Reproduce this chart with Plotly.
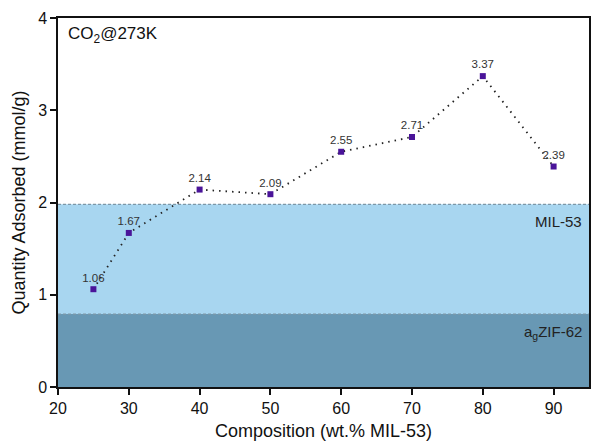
import plotly.graph_objects as go

composition = [25, 30, 40, 50, 60, 70, 80, 90]
uptake = [1.06, 1.67, 2.14, 2.09, 2.55, 2.71, 3.37, 2.39]
uptake_labels = ["1.06", "1.67", "2.14", "2.09", "2.55", "2.71", "3.37", "2.39"]
mil53_level = 1.98
zif62_level = 0.79
x_ticks = [20, 30, 40, 50, 60, 70, 80, 90]
y_ticks = [0, 1, 2, 3, 4]

FONT = "Liberation Sans, Arial, sans-serif"

fig = go.Figure()
fig.add_trace(go.Scatter(
    x=composition, y=uptake, mode="lines+markers+text",
    line=dict(color="#222222", width=1.8, dash="1.5px,5px"),
    marker=dict(symbol="square", size=6, color="#4a1499"),
    text=uptake_labels, textposition="top center",
    textfont=dict(size=11.5, color="#333333", family=FONT),
    cliponaxis=False, showlegend=False,
))

# shaded reference bands
fig.add_shape(type="rect", xref="paper", yref="y", x0=0, x1=1, y0=zif62_level, y1=mil53_level,
              fillcolor="#a8d6f0", line=dict(width=0), layer="below")
fig.add_shape(type="rect", xref="paper", yref="y", x0=0, x1=1, y0=0, y1=zif62_level,
              fillcolor="#6898b4", line=dict(width=0), layer="below")
for lvl in (mil53_level, zif62_level):
    fig.add_shape(type="line", xref="paper", yref="y", x0=0, x1=1, y0=lvl, y1=lvl,
                  line=dict(color="#7d98a8", width=1.2, dash="3px,2px"), layer="below")

fig.add_annotation(xref="paper", yref="y", x=0.99, y=mil53_level - 0.07, text="MIL-53",
                   showarrow=False, xanchor="right", yanchor="top",
                   font=dict(size=15, color="#222222", family=FONT))
fig.add_annotation(xref="paper", yref="y", x=0.99, y=zif62_level - 0.07, text="a<sub>g</sub>ZIF-62",
                   showarrow=False, xanchor="right", yanchor="top",
                   font=dict(size=15, color="#222222", family=FONT))
fig.add_annotation(xref="paper", yref="paper", x=0.015, y=0.99, text="CO<sub>2</sub>@273K",
                   showarrow=False, xanchor="left", yanchor="top",
                   font=dict(size=17, color="#111111", family=FONT))

fig.update_xaxes(range=[20, 95], tickvals=x_ticks, ticks="outside", ticklen=6, tickwidth=1.5,
                 tickcolor="#111", showline=True, linecolor="#111", linewidth=1.5, mirror=True,
                 showgrid=False, zeroline=False,
                 title=dict(text="Composition (wt.% MIL-53)", font=dict(size=18, family=FONT, color="#111"), standoff=8),
                 tickfont=dict(size=16, family=FONT, color="#111"))
fig.update_yaxes(range=[0, 4], tickvals=y_ticks, ticks="outside", ticklen=6, tickwidth=1.5,
                 tickcolor="#111", showline=True, linecolor="#111", linewidth=1.5, mirror=True,
                 showgrid=False, zeroline=False,
                 title=dict(text="Quantity Adsorbed (mmol/g)", font=dict(size=18, family=FONT, color="#111"), standoff=8),
                 tickfont=dict(size=16, family=FONT, color="#111"))

fig.update_layout(width=592, height=444, margin=dict(l=58, r=1, t=18, b=57),
                  plot_bgcolor="white", paper_bgcolor="white", font=dict(family=FONT))

fig.write_html("out.html", config={"displayModeBar": False},
               post_script="document.body.style.margin='0px';")
